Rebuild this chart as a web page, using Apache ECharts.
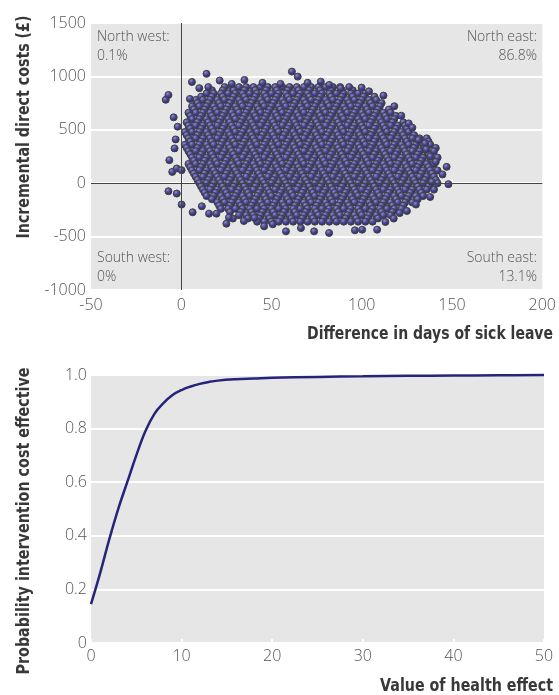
<!DOCTYPE html>
<html>
<head>
<meta charset="utf-8">
<script src="https://cdn.jsdelivr.net/npm/echarts@6/dist/echarts.min.js"></script>
<style>
html,body{margin:0;padding:0;background:#fff;}
#c{width:559px;height:695px;}
</style>
</head>
<body>
<div id="c"></div>
<script>
// ---------- DATA ----------
// Scatter (cost-effectiveness plane): body of the cloud, row by row [y, [x values]]
const cloudRows = [
  [900, [24,28,32,36,40,44,48,52,56,60,64,68,72,76,80,84,88]],
  [840, [14,18,22,26,30,34,38,42,46,50,54,58,62,66,70,74,78,82,86,90,94,98,102]],
  [780, [8,12,16,20,24,28,32,36,40,44,48,52,56,60,64,68,72,76,80,84,88,92,96,100,104,108]],
  [720, [6,10,14,18,22,26,30,34,38,42,46,50,54,58,62,66,70,74,78,82,86,90,94,98,102,106,110]],
  [660, [4,8,12,16,20,24,28,32,36,40,44,48,52,56,60,64,68,72,76,80,84,88,92,96,100,104,108,112,116]],
  [600, [6,10,14,18,22,26,30,34,38,42,46,50,54,58,62,66,70,74,78,82,86,90,94,98,102,106,110,114,118]],
  [540, [4,8,12,16,20,24,28,32,36,40,44,48,52,56,60,64,68,72,76,80,84,88,92,96,100,104,108,112,116,120,124]],
  [480, [2,6,10,14,18,22,26,30,34,38,42,46,50,54,58,62,66,70,74,78,82,86,90,94,98,102,106,110,114,118,122,126]],
  [420, [4,8,12,16,20,24,28,32,36,40,44,48,52,56,60,64,68,72,76,80,84,88,92,96,100,104,108,112,116,120,124,128,132,136]],
  [360, [2,6,10,14,18,22,26,30,34,38,42,46,50,54,58,62,66,70,74,78,82,86,90,94,98,102,106,110,114,118,122,126,130,134,138]],
  [300, [4,8,12,16,20,24,28,32,36,40,44,48,52,56,60,64,68,72,76,80,84,88,92,96,100,104,108,112,116,120,124,128,132,136,140]],
  [240, [6,10,14,18,22,26,30,34,38,42,46,50,54,58,62,66,70,74,78,82,86,90,94,98,102,106,110,114,118,122,126,130,134,138,142]],
  [180, [4,8,12,16,20,24,28,32,36,40,44,48,52,56,60,64,68,72,76,80,84,88,92,96,100,104,108,112,116,120,124,128,132,136,140]],
  [120, [6,10,14,18,22,26,30,34,38,42,46,50,54,58,62,66,70,74,78,82,86,90,94,98,102,106,110,114,118,122,126,130,134,138,142]],
  [60, [8,12,16,20,24,28,32,36,40,44,48,52,56,60,64,68,72,76,80,84,88,92,96,100,104,108,112,116,120,124,128,132,136,140]],
  [0, [10,14,18,22,26,30,34,38,42,46,50,54,58,62,66,70,74,78,82,86,90,94,98,102,106,110,114,118,122,126,130,134,138,142]],
  [-60, [12,16,20,24,28,32,36,40,44,48,52,56,60,64,68,72,76,80,84,88,92,96,100,104,108,112,116,120,124,128,132,136]],
  [-120, [14,18,22,26,30,34,38,42,46,50,54,58,62,66,70,74,78,82,86,90,94,98,102,106,110,114,118,122,126,130,134]],
  [-180, [20,24,28,32,36,40,44,48,52,56,60,64,68,72,76,80,84,88,92,96,100,104,108,112,116,120,124,128]],
  [-240, [22,26,30,34,38,42,46,50,54,58,62,66,70,74,78,82,86,90,94,98,102,106,110,114,118,122]],
  [-300, [32,36,40,44,48,52,56,60,64,68,72,76,80,84,88,92,96,100,104,108,112,116]],
  [-360, [42,46,50,54,58,62,66,70,74,78,82,86,90,94,98,102,106]]
];
// Second, offset layer of the cloud body [y, [x values]]
const cloudRows2 = [
  [870, [17,23,29,35,41,47,53,59,65,71,77,83,89,95]],
  [810, [11,17,23,29,35,41,47,53,59,65,71,77,83,89,95,101,107]],
  [750, [9,15,21,27,33,39,45,51,57,63,69,75,81,87,93,99,105,111]],
  [690, [7,13,19,25,31,37,43,49,55,61,67,73,79,85,91,97,103,109,115]],
  [630, [5,11,17,23,29,35,41,47,53,59,65,71,77,83,89,95,101,107,113,119]],
  [570, [3,9,15,21,27,33,39,45,51,57,63,69,75,81,87,93,99,105,111,117,123]],
  [510, [5,11,17,23,29,35,41,47,53,59,65,71,77,83,89,95,101,107,113,119,125]],
  [450, [3,9,15,21,27,33,39,45,51,57,63,69,75,81,87,93,99,105,111,117,123,129]],
  [390, [5,11,17,23,29,35,41,47,53,59,65,71,77,83,89,95,101,107,113,119,125,131,137]],
  [330, [3,9,15,21,27,33,39,45,51,57,63,69,75,81,87,93,99,105,111,117,123,129,135,141]],
  [270, [5,11,17,23,29,35,41,47,53,59,65,71,77,83,89,95,101,107,113,119,125,131,137]],
  [210, [7,13,19,25,31,37,43,49,55,61,67,73,79,85,91,97,103,109,115,121,127,133,139]],
  [150, [5,11,17,23,29,35,41,47,53,59,65,71,77,83,89,95,101,107,113,119,125,131,137]],
  [90, [7,13,19,25,31,37,43,49,55,61,67,73,79,85,91,97,103,109,115,121,127,133,139]],
  [30, [9,15,21,27,33,39,45,51,57,63,69,75,81,87,93,99,105,111,117,123,129,135,141]],
  [-30, [11,17,23,29,35,41,47,53,59,65,71,77,83,89,95,101,107,113,119,125,131,137]],
  [-90, [13,19,25,31,37,43,49,55,61,67,73,79,85,91,97,103,109,115,121,127,133]],
  [-150, [17,23,29,35,41,47,53,59,65,71,77,83,89,95,101,107,113,119,125,131]],
  [-210, [21,27,33,39,45,51,57,63,69,75,81,87,93,99,105,111,117,123]],
  [-270, [27,33,39,45,51,57,63,69,75,81,87,93,99,105,111,117]],
  [-330, [37,43,49,55,61,67,73,79,85,91,97,103,109]]
];
// Scattered points around the edge of the cloud [x, y]
const edgePoints = [
  [-8.6,781],[-7.1,826],[-4.2,617],[-2,529],[-3.1,410],[-3.7,326],[-6.6,216],[-5,106],[-2.5,138],[0.2,122],
  [-7.1,-75],[-2.5,-97],[0.2,-200],[6.3,-272],[11.4,-216],[15.4,-285],[19.5,-285],[25,-379],[28.6,-331],[26.4,-322],
  [34.7,-354],[40.6,-326],[45.9,-404],[50.7,-385],[14,1024],[5.9,948],[21.3,961],[35,967],[4.8,789],[61.3,1045],
  [64.5,998],[77.3,951],[88.3,889],[99.9,895],[121.9,632],[131.4,404],[135.1,373],[135.7,316],[147,153],[144.7,82],
  [148,-9],[138.8,12],[137.9,-129],[117.7,-331],[113.1,-363],[108.5,-435],[100.2,-435],[96.2,-441],[81.9,-466],[73.6,-451],
  [66.3,-420],[58,-451],[10,890],[15,900],[28,930],[45,940],[55,930],[70,940],[82,920],[93,900],
  [104,860],[112,820],[118,720],[126,560],[128,520],[138,250],[141,200],[140,-60],[130,-200],[125,-260],[121,-280]
];
// Acceptability curve
const healthEffect = [0,1,2,3,4,5,6,7,8,9,10,11,12,13,14,16,18,20,25,30,35,40,45,50];
const probCostEffective = [0.145,0.26,0.385,0.50,0.60,0.70,0.79,0.855,0.895,0.925,0.944,0.957,0.967,0.974,0.979,0.984,0.987,0.99,0.993,0.995,0.997,0.998,0.999,1.0];

const quadrantLabels = {
  nw: ['North west:', '0.1%'],
  ne: ['North east:', '86.8%'],
  sw: ['South west:', '0%'],
  se: ['South east:', '13.1%']
};

// ---------- BUILD ----------
const scatterData = [];
const maxRows = Math.max(cloudRows.length, cloudRows2.length);
for (let i = 0; i < maxRows; i++) {
  if (cloudRows[i]) cloudRows[i][1].forEach(x => scatterData.push([x, cloudRows[i][0]]));
  if (cloudRows2[i]) cloudRows2[i][1].forEach(x => scatterData.push([x, cloudRows2[i][0]]));
}
edgePoints.forEach(p => scatterData.push(p));
const curveData = healthEffect.map((x, i) => [x, probCostEffective[i]]);

const labelFont = 'Open Sans';
const labelColor = '#555';
const titleFont = 'bold 17px "DejaVu Sans"';
const titleColor = '#383838';

const cv = document.createElement('canvas').getContext('2d');
function fit(text, target) { cv.font = titleFont; return target / cv.measureText(text).width; }

function titleText(text, x, y, length, vertical) {
  return {
    type: 'text', x: x, y: y,
    rotation: vertical ? Math.PI / 2 : 0,
    scaleX: fit(text, length), scaleY: 1,
    style: { text: text, font: titleFont, fill: titleColor,
      textAlign: 'center', textVerticalAlign: 'middle' }
  };
}
function quad(lines, x, y, align) {
  return {
    type: 'text', x: x, y: y,
    style: { text: lines.join('\n'), fontFamily: labelFont, fontSize: 14, fontWeight: 300,
      lineHeight: 19, fill: labelColor, textAlign: align, textVerticalAlign: 'top' }
  };
}

const ball = {
  type: 'radial', x: 0.38, y: 0.32, r: 0.7,
  colorStops: [{offset: 0, color: '#8e8bd0'}, {offset: 0.45, color: '#4a4794'}, {offset: 1, color: '#26235a'}]
};

const axisLabelStyle = { color: labelColor, fontFamily: labelFont, fontSize: 16, fontWeight: 300 };

const chart = echarts.init(document.getElementById('c'), null, {renderer: 'canvas'});
chart.setOption({
  animation: false,
  backgroundColor: '#fff',
  grid: [
    {left: 91, right: 14, top: 23, height: 267, show: true, backgroundColor: '#e6e6e6', borderWidth: 0},
    {left: 91, right: 15, top: 375, height: 268, show: true, backgroundColor: '#e6e6e6', borderWidth: 0}
  ],
  xAxis: [
    {gridIndex: 0, type: 'value', min: -50, max: 200, interval: 50,
      axisLine: {show: false}, splitLine: {show: false},
      axisTick: {show: true, inside: true, length: 4, lineStyle: {color: '#fff', width: 2}},
      axisLabel: Object.assign({margin: 7, formatter: v => String(v)}, axisLabelStyle)},
    {gridIndex: 1, type: 'value', min: 0, max: 50, interval: 10,
      axisLine: {show: false}, splitLine: {show: false},
      axisTick: {show: true, inside: true, length: 4, lineStyle: {color: '#fff', width: 2}},
      axisLabel: Object.assign({margin: 5, formatter: v => String(v)}, axisLabelStyle)}
  ],
  yAxis: [
    {gridIndex: 0, type: 'value', min: -1000, max: 1500, interval: 500,
      axisLine: {show: false}, axisTick: {show: false},
      splitLine: {show: true, lineStyle: {color: '#fff', width: 2}},
      axisLabel: Object.assign({margin: 5, formatter: v => String(v)}, axisLabelStyle)},
    {gridIndex: 1, type: 'value', min: 0, max: 1, interval: 0.2,
      axisLine: {show: false}, axisTick: {show: false},
      splitLine: {show: true, lineStyle: {color: '#fff', width: 2}},
      axisLabel: Object.assign({margin: 4, formatter: v => v === 0 ? '0' : v.toFixed(1)}, axisLabelStyle)}
  ],
  series: [
    {type: 'scatter', xAxisIndex: 0, yAxisIndex: 0, data: [], z: 1, silent: true,
      markLine: {silent: true, symbol: 'none', label: {show: false},
        lineStyle: {color: '#444', width: 1, type: 'solid'},
        data: [{xAxis: 0}, {yAxis: 0}]}},
    {type: 'scatter', xAxisIndex: 0, yAxisIndex: 0, data: scatterData, z: 3,
      symbol: 'circle', symbolSize: 7, large: false, progressive: 0,
      itemStyle: {color: ball, borderColor: '#414141', borderWidth: 1, opacity: 1}},
    {type: 'line', xAxisIndex: 1, yAxisIndex: 1, data: curveData, smooth: 0.4,
      showSymbol: false, symbol: 'none', clip: false,
      lineStyle: {color: '#24247a', width: 2.5}}
  ],
  graphic: [
    quad(quadrantLabels.nw, 97, 28, 'left'),
    quad(quadrantLabels.ne, 537, 28, 'right'),
    quad(quadrantLabels.sw, 97, 249, 'left'),
    quad(quadrantLabels.se, 537, 249, 'right'),
    titleText('Incremental direct costs (£)', 25, 127, 223, true),
    titleText('Difference in days of sick leave', 430, 335, 246, false),
    titleText('Probability intervention cost effective', 25, 521, 307, true),
    titleText('Value of health effect', 466.5, 687, 173, false)
  ]
});
</script>
</body>
</html>
